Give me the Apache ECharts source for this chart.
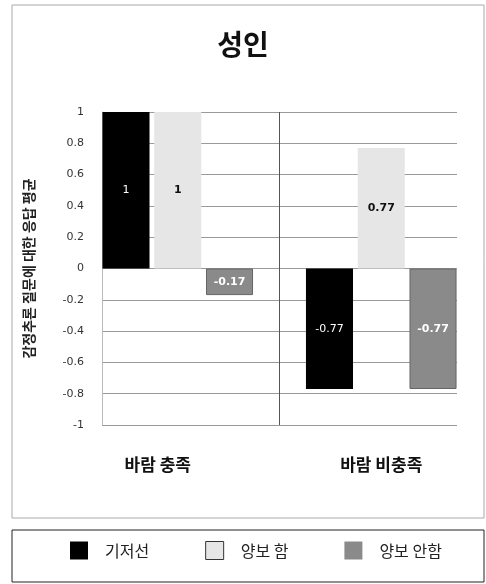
<!DOCTYPE html>
<html><head><meta charset="utf-8">
<script src="https://cdn.jsdelivr.net/npm/echarts@6/dist/echarts.min.js"></script>
<style>html,body{margin:0;padding:0;background:#fff}#c{width:486px;height:584px}</style>
</head><body><div id="c"></div>
<script>
const categories = ['바람 충족', '바람 비충족'];
const seriesNames = ['기저선', '양보 함', '양보 안함'];
const baseline = [1, -0.77];
const yieldDo = [1, 0.77];
const yieldNot = [-0.17, -0.77];
const yTicks = [-1, -0.8, -0.6, -0.4, -0.2, 0, 0.2, 0.4, 0.6, 0.8, 1];

const font = "'Noto Sans CJK KR', sans-serif";
const chart = echarts.init(document.getElementById('c'));
const colors = ['#000000', '#e6e6e6', '#8a8a8a'];
const labelColors = ['#ffffff', '#111111', '#ffffff'];
const labelWeights = ['normal', 'bold', 'bold'];
const datas = [baseline, yieldDo, yieldNot];

chart.setOption({
  animation: false,
  textStyle: { fontFamily: font },
  title: {
    text: '성인', left: 'center', top: 25,
    textStyle: { fontSize: 28, fontWeight: 'bold', color: '#111', fontFamily: font }
  },
  graphic: [
    { type: 'rect', shape: { x: 12, y: 5, width: 472, height: 513 }, style: { fill: 'none', stroke: '#aaa', lineWidth: 1 }, z: -1 },
    { type: 'rect', shape: { x: 12, y: 530, width: 472, height: 52 }, style: { fill: 'none', stroke: '#222', lineWidth: 1 }, z: -1 }
  ],
  legend: {
    bottom: 19, left: 65, icon: 'rect',
    itemWidth: 18, itemHeight: 18, itemGap: 56,
    textStyle: { fontSize: 16, color: '#222', fontFamily: font, padding: [0, 0, 0, 12] },
    data: seriesNames.map((n, i) => ({ name: n, itemStyle: { borderColor: '#333', borderWidth: i === 1 ? 1 : 0 } }))
  },
  grid: [
    { left: 102, right: 29, top: 112, bottom: 159 },
    { left: 76, right: 3, top: 112, bottom: 159 }
  ],
  xAxis: [
    {
      gridIndex: 0, type: 'category', data: categories,
      axisLine: { show: false }, axisTick: { show: false }, axisLabel: { show: false },
      splitLine: { show: true, lineStyle: { color: ['rgba(0,0,0,0)', '#555'], width: 1 } }
    },
    {
      gridIndex: 1, type: 'category', data: categories,
      axisLine: { show: false }, axisTick: { show: false }, splitLine: { show: false },
      axisLabel: {
        margin: 31, fontSize: 17, fontWeight: 'bold', color: '#111', fontFamily: font,
        formatter: (v, idx) => idx === 0 ? '{a|' + v + '}' : v,
        rich: { a: { fontSize: 17, fontWeight: 'bold', color: '#111', fontFamily: font, padding: [0, 40, 0, 0] } }
      }
    }
  ],
  yAxis: [
    {
      gridIndex: 0, type: 'value', min: -1, max: 1, interval: 0.2,
      name: '감정추론 질문에 대한 응답 평균', nameLocation: 'middle', nameGap: 66, nameRotate: 90,
      nameTextStyle: { fontSize: 14, fontWeight: 'bold', color: '#222', fontFamily: font },
      axisLine: { show: true, lineStyle: { color: '#bbb' } },
      axisTick: { show: false },
      splitLine: { show: true, lineStyle: { color: '#999', width: 1 } },
      axisLabel: {
        fontSize: 11, color: '#333', margin: 18, fontFamily: 'DejaVu Sans',
        formatter: v => { const r = Math.round(v * 10) / 10; return yTicks.includes(r) ? String(r) : ''; }
      }
    },
    {
      gridIndex: 1, type: 'value', min: -1, max: 1, interval: 0.2,
      axisLine: { show: false }, axisTick: { show: false }, axisLabel: { show: false }, splitLine: { show: false }
    }
  ],
  series: datas.map((d, i) => ({
    name: seriesNames[i], type: 'bar', data: d, xAxisIndex: 1, yAxisIndex: 1, z: 5,
    barGap: '10%', barCategoryGap: '26%',
    itemStyle: { color: colors[i], borderColor: i === 2 ? '#666' : colors[i], borderWidth: i === 2 ? 1 : 0 },
    label: {
      show: true, position: 'inside', color: labelColors[i], fontSize: 11,
      fontWeight: labelWeights[i], fontFamily: 'DejaVu Sans'
    }
  }))
});
</script></body></html>
